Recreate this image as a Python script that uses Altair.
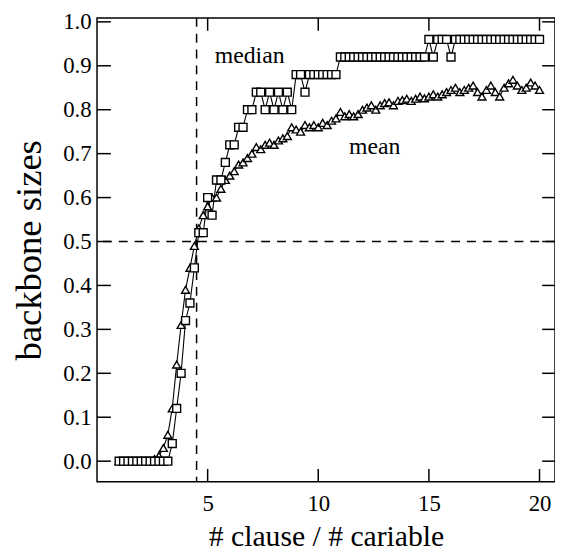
import altair as alt
import pandas as pd

# ---- data ----
X = [1.0, 1.2, 1.4, 1.6, 1.8, 2.0, 2.2, 2.4, 2.6, 2.8, 3.0, 3.2,
     3.4, 3.6, 3.8, 4.0, 4.2, 4.4, 4.6, 4.8, 5.0, 5.2,
     5.4, 5.6, 5.8, 6.0, 6.2, 6.4, 6.6, 6.8, 7.0, 7.2,
     7.4, 7.6, 7.8, 8.0, 8.2, 8.4, 8.6, 8.8, 9.0, 9.2,
     9.4, 9.6, 9.8, 10.0, 10.2, 10.4, 10.6, 10.8, 11.0, 11.2,
     11.4, 11.6, 11.8, 12.0, 12.2, 12.4, 12.6, 12.8, 13.0, 13.2,
     13.4, 13.6, 13.8, 14.0, 14.2, 14.4, 14.6, 14.8, 15.0, 15.2,
     15.4, 15.6, 15.8, 16.0, 16.2, 16.4, 16.6, 16.8, 17.0, 17.2,
     17.4, 17.6, 17.8, 18.0, 18.2, 18.4, 18.6, 18.8, 19.0, 19.2,
     19.4, 19.6, 19.8, 20.0]

MEDIAN = [0, 0, 0, 0, 0, 0, 0, 0, 0, 0, 0, 0,
          0.04, 0.12, 0.20, 0.32, 0.36, 0.44, 0.52, 0.52, 0.60, 0.56,
          0.64, 0.64, 0.68, 0.72, 0.72, 0.76, 0.76, 0.80, 0.80, 0.84,
          0.84, 0.80, 0.84, 0.80, 0.84, 0.80, 0.84, 0.80, 0.88, 0.88,
          0.84, 0.88, 0.88, 0.88, 0.88, 0.88, 0.88, 0.88, 0.92, 0.92,
          0.92, 0.92, 0.92, 0.92, 0.92, 0.92, 0.92, 0.92, 0.92, 0.92,
          0.92, 0.92, 0.92, 0.92, 0.92, 0.92, 0.92, 0.92, 0.96, 0.92,
          0.96, 0.96, 0.96, 0.92, 0.96, 0.96, 0.96, 0.96, 0.96, 0.96,
          0.96, 0.96, 0.96, 0.96, 0.96, 0.96, 0.96, 0.96, 0.96, 0.96,
          0.96, 0.96, 0.96, 0.96]

MEAN = [0, 0, 0, 0, 0, 0, 0, 0, 0.005, 0.012, 0.03, 0.06,
        0.12, 0.22, 0.31, 0.39, 0.44, 0.49, 0.53, 0.56, 0.58, 0.60,
        0.60, 0.62, 0.64, 0.65, 0.66, 0.675, 0.68, 0.69, 0.70, 0.715,
        0.71, 0.72, 0.725, 0.72, 0.73, 0.735, 0.74, 0.76, 0.755, 0.75,
        0.765, 0.76, 0.765, 0.76, 0.77, 0.765, 0.775, 0.78, 0.795, 0.785,
        0.79, 0.785, 0.79, 0.80, 0.805, 0.81, 0.80, 0.81, 0.815, 0.817,
        0.81, 0.82, 0.822, 0.825, 0.82, 0.825, 0.83, 0.826, 0.83, 0.835,
        0.83, 0.835, 0.84, 0.845, 0.85, 0.84, 0.845, 0.85, 0.855, 0.84,
        0.83, 0.845, 0.855, 0.84, 0.83, 0.85, 0.86, 0.868, 0.855, 0.845,
        0.85, 0.862, 0.855, 0.845]

X_TICKS = [5, 10, 15, 20]
Y_TICKS = [0.0, 0.1, 0.2, 0.3, 0.4, 0.5, 0.6, 0.7, 0.8, 0.9, 1.0]
H_REF = [0.5]
V_REF = [4.5]
LABELS = ["median", "mean"]
LABEL_X = [6.9, 12.55]
LABEL_Y = [0.907, 0.70]

X_TITLE = "# clause / # cariable"
Y_TITLE = "backbone sizes"

# ---- chart ----
W, H = 463, 469
FONT = "Liberation Serif"

xscale = alt.Scale(domain=[0, 20.7], nice=False, zero=False)
yscale = alt.Scale(domain=[-0.047, 1.009], nice=False, zero=False)

xaxis = alt.Axis(values=X_TICKS, title=X_TITLE, ticks=False, domain=False, grid=False,
                 labelFontSize=23, titleFontSize=30, labelPadding=11, titlePadding=6,
                 labelFont=FONT, titleFont=FONT, titleFontWeight="normal",
                 labelColor="black", titleColor="black")
yaxis = alt.Axis(values=Y_TICKS, format=".1f", title=Y_TITLE, ticks=False, domain=False,
                 grid=False, labelFontSize=23, titleFontSize=37, labelPadding=6,
                 titlePadding=14, labelFont=FONT, titleFont=FONT,
                 titleFontWeight="normal", labelColor="black", titleColor="black")


def ex():
    return alt.X("x:Q", scale=xscale, axis=xaxis)


def ey():
    return alt.Y("y:Q", scale=yscale, axis=yaxis)


med_df = pd.DataFrame({"x": X, "y": MEDIAN})
mean_df = pd.DataFrame({"x": X, "y": MEAN})

med_line = alt.Chart(med_df).mark_line(color="black", strokeWidth=1.1).encode(x=ex(), y=ey())
med_pts = alt.Chart(med_df).mark_point(shape="square", filled=True, fill="white",
                                       stroke="black", strokeWidth=1.4, size=64,
                                       opacity=1).encode(x=ex(), y=ey())
mean_line = alt.Chart(mean_df).mark_line(color="black", strokeWidth=1.1).encode(x=ex(), y=ey())
mean_pts = alt.Chart(mean_df).mark_point(shape="triangle-up", filled=True, fill="white",
                                         stroke="black", strokeWidth=1.4, size=64,
                                         opacity=1).encode(x=ex(), y=ey())

href = alt.Chart(pd.DataFrame({"y": H_REF})).mark_rule(
    color="black", strokeWidth=1.5, strokeDash=[9, 7]).encode(y=ey())
vref = alt.Chart(pd.DataFrame({"x": V_REF})).mark_rule(
    color="black", strokeWidth=1.5, strokeDash=[9, 7]).encode(x=ex())

xt = pd.DataFrame({"x": X_TICKS})
yt = pd.DataFrame({"y": Y_TICKS})
tick_b = alt.Chart(xt).mark_rule(color="black", strokeWidth=1.5).encode(
    x=ex(), y=alt.value(H), y2=alt.value(H - 13))
tick_t = alt.Chart(xt).mark_rule(color="black", strokeWidth=1.5).encode(
    x=ex(), y=alt.value(0), y2=alt.value(13))
tick_l = alt.Chart(yt).mark_rule(color="black", strokeWidth=1.5).encode(
    y=ey(), x=alt.value(0), x2=alt.value(14))
tick_r = alt.Chart(yt).mark_rule(color="black", strokeWidth=1.5).encode(
    y=ey(), x=alt.value(W), x2=alt.value(W - 13))

lab_df = pd.DataFrame({"x": LABEL_X, "y": LABEL_Y, "t": LABELS})
labels = alt.Chart(lab_df).mark_text(font=FONT, fontSize=24, color="black",
                                     align="center", baseline="alphabetic").encode(
    x=ex(), y=ey(), text="t:N")

chart = alt.layer(
    href, vref, tick_b, tick_t, tick_l, tick_r,
    mean_line, med_line, mean_pts, med_pts, labels
).properties(
    width=W, height=H,
    autosize=alt.AutoSizeParams(type="none"),
    padding={"left": 90, "top": 7, "right": 0, "bottom": 72},
    background="white",
).configure_view(stroke="black", strokeWidth=1.5)

chart.save("out.html", embed_options={"renderer": "svg", "actions": False})
